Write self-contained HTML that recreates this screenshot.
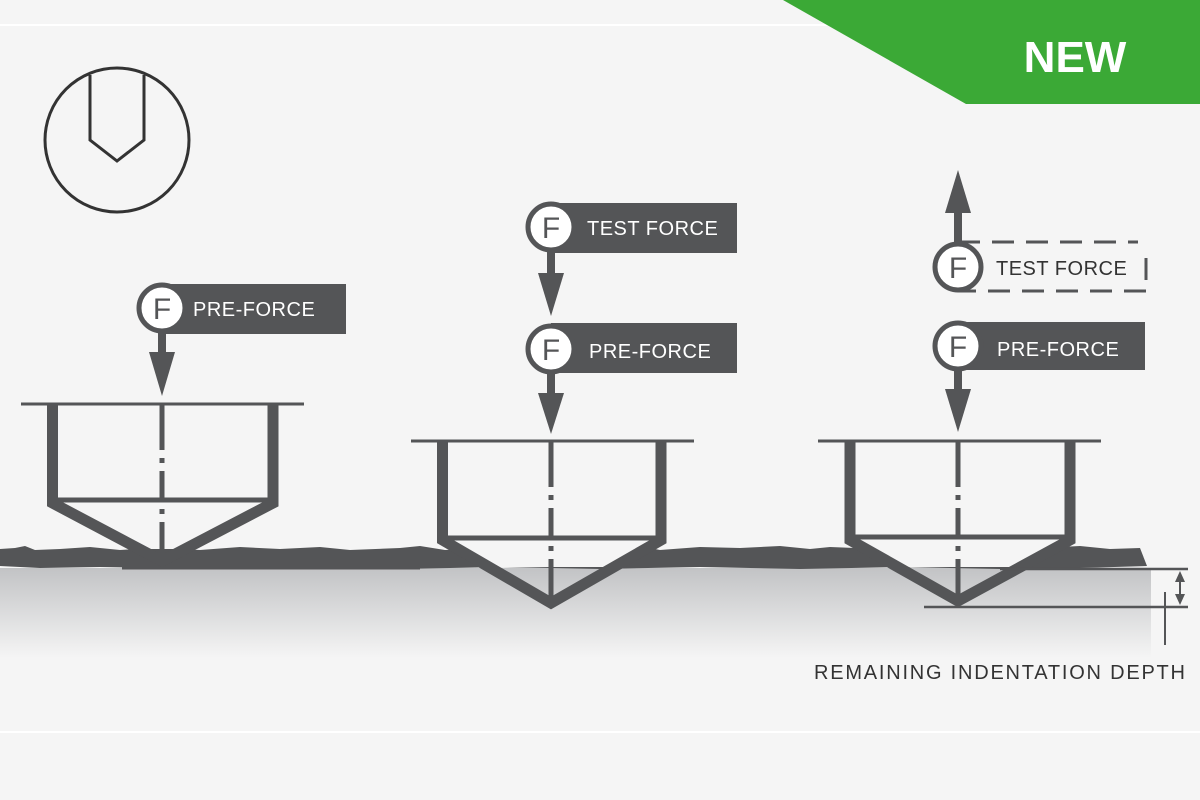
<!DOCTYPE html>
<html><head><meta charset="utf-8"><style>
html,body{margin:0;padding:0;background:#f5f5f5;}
svg{display:block;}
text{font-family:"Liberation Sans",sans-serif;}
</style></head><body>
<svg width="1200" height="800" viewBox="0 0 1200 800" xmlns="http://www.w3.org/2000/svg">
<defs>
<linearGradient id="g" x1="0" y1="0" x2="0" y2="1">
<stop offset="0" stop-color="#c2c3c5"/><stop offset="1" stop-color="#f5f5f5"/>
</linearGradient>
</defs>
<rect width="1200" height="800" fill="#f5f5f5"/>
<line x1="0" y1="25" x2="1200" y2="25" stroke="#ffffff" stroke-width="2"/>
<line x1="0" y1="732" x2="1200" y2="732" stroke="#ffffff" stroke-width="2"/>
<polygon points="783,0 1200,0 1200,104 966,104" fill="#3ba936"/>
<text x="1075" y="72" text-anchor="middle" font-size="44" font-weight="bold" fill="#fff">NEW</text>

<!-- icon -->
<circle cx="117" cy="140" r="72" fill="none" stroke="#333" stroke-width="3"/>
<polyline points="90,75 90,140 117,161 144,140 144,75" fill="none" stroke="#333" stroke-width="3"/>

<!-- ground -->
<rect x="0" y="568" width="1151" height="90" fill="url(#g)"/>
<path d="M0,549 L15,548 L25,546 L35,550 L60,549 L90,547 L120,550 L150,548 L200,550 L240,547 L280,549 L320,547 L350,550 L400,548 L420,546 L445,550 L500,548 L540,549 L600,548 L640,546 L660,550 L700,547 L740,548 L780,546 L810,549 L830,547 L880,549 L920,547 L960,549 L1000,547 L1040,548 L1080,546 L1110,549 L1140,548 L1147,566 L1080,568 L1000,569 L900,567 L800,569 L700,567 L600,569 L500,567 L400,569 L300,567 L200,569 L100,567 L40,568 L0,566 Z" fill="#545557"/>
<line x1="122" y1="568" x2="420" y2="568" stroke="#545557" stroke-width="3"/>
<!-- cone interiors clear of band -->
<polygon points="58,503 268,503 180,549 145,549" fill="#f5f5f5"/>
<polygon points="448,541 655,541 608,567 495,567" fill="#f5f5f5"/>
<polygon points="856,540 1064,540 1013,567 905,567" fill="#f5f5f5"/>

<g stroke="#545557" fill="none">
<!-- indenter 1 -->
<line x1="21" y1="404" x2="304" y2="404" stroke-width="3"/>
<polyline points="52.5,405 52.5,503 162,561 273,503 273,405" stroke-width="11" stroke-linejoin="miter"/>
<line x1="55" y1="500" x2="270" y2="500" stroke-width="5"/>
<line x1="162" y1="405" x2="162" y2="556" stroke-width="5" stroke-dasharray="45,8,5,8,30,8,5,8,40"/>
<!-- indenter 2 -->
<line x1="411" y1="441" x2="694" y2="441" stroke-width="3"/>
<polyline points="442.5,442 442.5,540 551,603 661,540 661,442" stroke-width="11"/>
<line x1="445" y1="538" x2="658" y2="538" stroke-width="5"/>
<line x1="551" y1="442" x2="551" y2="600" stroke-width="5" stroke-dasharray="45,8,5,8,30,8,5,8,40"/>
<!-- indenter 3 -->
<line x1="818" y1="441" x2="1101" y2="441" stroke-width="3"/>
<polyline points="850,442 850,540 958,601 1070,540 1070,442" stroke-width="11"/>
<line x1="852" y1="537" x2="1068" y2="537" stroke-width="5"/>
<line x1="958" y1="442" x2="958" y2="598" stroke-width="5" stroke-dasharray="45,8,5,8,30,8,5,8,40"/>
<!-- measurement -->
<line x1="1000" y1="569" x2="1188" y2="569" stroke-width="2.5"/>
<line x1="924" y1="607" x2="1188" y2="607" stroke-width="2.5"/>
<line x1="1180" y1="578" x2="1180" y2="598" stroke-width="2"/>
<line x1="1165" y1="592" x2="1165" y2="645" stroke-width="2"/>
</g>
<polygon points="1180,571 1175,582 1185,582" fill="#545557"/>
<polygon points="1180,605 1175,594 1185,594" fill="#545557"/>

<!-- labels -->
<g fill="#545557">
<rect x="162" y="284" width="184" height="50"/>
<rect x="158" y="330" width="8" height="24"/><polygon points="149,352 175,352 162,396"/>
<rect x="551" y="203" width="186" height="50"/>
<rect x="547" y="250" width="8" height="25"/><polygon points="538,273 564,273 551,316"/>
<rect x="551" y="323" width="186" height="50"/>
<rect x="547" y="370" width="8" height="25"/><polygon points="538,393 564,393 551,434"/>
<rect x="958" y="322" width="187" height="48"/>
<rect x="954" y="367" width="8" height="25"/><polygon points="945,389 971,389 958,432"/>
<rect x="954" y="205" width="8" height="40"/><polygon points="945,213 971,213 958,170"/>
</g>
<path d="M958,242 H1138 M1146,258 V282 M1146,291 H958" stroke="#545557" stroke-width="3" fill="none" stroke-dasharray="22,12"/>
<g fill="#fff" stroke="#545557" stroke-width="5">
<circle cx="162" cy="308" r="23"/>
<circle cx="551" cy="227" r="23"/>
<circle cx="551" cy="349" r="23"/>
<circle cx="958" cy="346" r="23"/>
<circle cx="958" cy="267" r="23"/>
</g>
<g font-size="30" fill="#545557" text-anchor="middle">
<text x="162" y="319">F</text>
<text x="551" y="238">F</text>
<text x="551" y="360">F</text>
<text x="958" y="357">F</text>
<text x="958" y="278">F</text>
</g>
<g font-size="20" fill="#fff">
<text x="193" y="316" letter-spacing="0.5">PRE-FORCE</text>
<text x="587" y="235" letter-spacing="0.5">TEST FORCE</text>
<text x="589" y="358" letter-spacing="0.5">PRE-FORCE</text>
<text x="997" y="356" letter-spacing="0.5">PRE-FORCE</text>
</g>
<text x="996" y="275" font-size="20" fill="#333" letter-spacing="0.5">TEST FORCE</text>
<text x="814" y="679" font-size="20" fill="#333" letter-spacing="1" textLength="372">REMAINING INDENTATION DEPTH</text>
</svg>
</body></html>
